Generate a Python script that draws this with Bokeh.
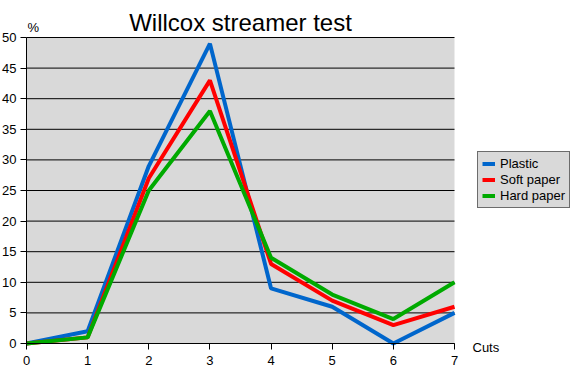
from bokeh.plotting import figure
from bokeh.models import Range1d, Label, Legend, LegendItem, FixedTicker, BoxAnnotation
from bokeh.embed import file_html
from bokeh.resources import INLINE

cuts = [0, 1, 2, 3, 4, 5, 6, 7]
plastic = [0, 2, 29, 49, 9, 6, 0, 5]
soft_paper = [0, 1, 27, 43, 13, 7, 3, 6]
hard_paper = [0, 1, 25, 38, 14, 8, 4, 10]
series_names = ["Plastic", "Soft paper", "Hard paper"]
series_colors = ["#0066CC", "#FF0000", "#00AA00"]
y_ticks = [0, 5, 10, 15, 20, 25, 30, 35, 40, 45, 50]

FONT = "Liberation Sans"
W, H = 573, 370
# pixel layout of the plotting area (figure coordinates)
LEFT, RIGHT_DATA, TOP_DATA, BOTTOM = 26, 454, 37, 343

x0, x1 = cuts[0], cuts[-1]
y0, y1 = y_ticks[0], y_ticks[-1]
px_x = (RIGHT_DATA - LEFT) / (x1 - x0)
px_y = (BOTTOM - TOP_DATA) / (y1 - y0)
x_start = x0 - LEFT / px_x
x_end = x0 + (W - LEFT) / px_x
y_start = y0 - (H - BOTTOM) / px_y
y_end = y0 + BOTTOM / px_y

p = figure(width=W, height=H, x_range=Range1d(x_start, x_end), y_range=Range1d(y_start, y_end),
           output_backend="svg", toolbar_location=None,
           min_border_left=0, min_border_right=0, min_border_top=0, min_border_bottom=0,
           styles={"margin-left": "0px", "margin-top": "0px", "margin-bottom": "0px"})
p.title = None
p.background_fill_color = "white"
p.border_fill_color = "white"
p.outline_line_color = None
p.grid.visible = False

p.add_layout(BoxAnnotation(left=x0, right=x1, bottom=y0, top=y1, fill_color="#D9D9D9",
                           fill_alpha=1, line_color=None, level="underlay"))
p.segment(x0=[x0] * len(y_ticks), x1=[x1] * len(y_ticks), y0=y_ticks, y1=y_ticks,
          line_color="black", line_width=1)

for ax in (p.xaxis[0], p.yaxis[0]):
    ax.axis_line_color = "black"
    ax.major_tick_line_color = "black"
    ax.major_tick_out = 6
    ax.major_tick_in = 0
    ax.minor_tick_line_color = None
    ax.major_label_text_font = FONT
    ax.major_label_text_font_size = "13px"
    ax.major_label_text_color = "black"

p.xaxis.major_label_standoff = 6
p.yaxis.major_label_standoff = 4
p.xaxis.bounds = (x0, x1)
p.yaxis.bounds = (y0, y1)
p.xaxis.fixed_location = y0
p.yaxis.fixed_location = x0
p.xaxis.ticker = FixedTicker(ticks=cuts)
p.yaxis.ticker = FixedTicker(ticks=y_ticks)

renderers = []
for vals, col in zip([plastic, soft_paper, hard_paper], series_colors):
    r = p.line(cuts, vals, line_color=col, line_width=4)
    renderers.append(r)

legend = Legend(items=[LegendItem(label=n, renderers=[r]) for n, r in zip(series_names, renderers)],
                location=(477, 162), orientation="vertical")
legend.label_text_font = FONT
legend.label_text_font_size = "13px"
legend.label_text_color = "black"
legend.glyph_width = 13
legend.glyph_height = 15
legend.label_height = 15
legend.label_standoff = 5
legend.spacing = 1
legend.padding = 4
legend.margin = 0
legend.background_fill_color = "#D9D9D9"
legend.background_fill_alpha = 1
legend.border_line_color = "black"
legend.border_line_width = 1
p.add_layout(legend, "center")

p.add_layout(Label(x=(x0 + x1) / 2, y=y1, text="Willcox streamer test", y_offset=15,
                   text_align="center", text_baseline="alphabetic", text_font=FONT,
                   text_font_size="24px", text_color="black"))
p.add_layout(Label(x=x0, y=y1, text="%", x_offset=1, y_offset=10, text_font=FONT,
                   text_font_size="13px", text_color="black", text_baseline="alphabetic"))
p.add_layout(Label(x=x1, y=y0, text="Cuts", x_offset=18, y_offset=-4, text_font=FONT,
                   text_font_size="13px", text_color="black", text_baseline="alphabetic"))

open("out.html", "w").write(file_html(p, INLINE))
